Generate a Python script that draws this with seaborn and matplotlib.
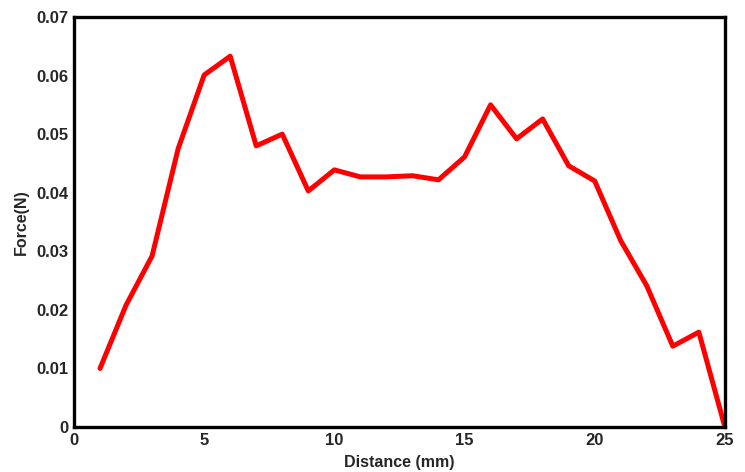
import matplotlib
matplotlib.use("Agg")
import matplotlib.pyplot as plt
import seaborn as sns
import pandas as pd

distance = [1, 2, 3, 4, 5, 6, 7, 8, 9, 10, 11, 12, 13, 14, 15, 16, 17, 18, 19, 20, 21, 22, 23, 24, 25]
force = [0.0100, 0.0208, 0.0292, 0.0475, 0.0601, 0.0633, 0.0480, 0.0500, 0.0403, 0.0439,
         0.0427, 0.0427, 0.0429, 0.0422, 0.0461, 0.0550, 0.0492, 0.0526, 0.0446, 0.0420,
         0.0318, 0.0241, 0.0138, 0.0162, 0.0]
xticks = [0, 5, 10, 15, 20, 25]
yticks = [0, 0.01, 0.02, 0.03, 0.04, 0.05, 0.06, 0.07]
ytick_labels = ["0", "0.01", "0.02", "0.03", "0.04", "0.05", "0.06", "0.07"]

sns.set_style("white")
plt.rcParams['font.family'] = ['Liberation Sans', 'DejaVu Sans']
plt.rcParams['font.weight'] = 'bold'

df = pd.DataFrame({"Distance": distance, "Force": force})

fig = plt.figure(figsize=(7.45, 4.72), dpi=100)
ax = fig.add_axes([0.0993, 0.0953, 0.8737, 0.8687])
sns.lineplot(data=df, x="Distance", y="Force", ax=ax, color="#ff0000", linewidth=3.6)
ax.set_xlim(0, 25)
ax.set_ylim(0, 0.07)
ax.set_xticks(xticks)
ax.set_xticklabels([str(t) for t in xticks], fontsize=12, fontweight='bold')
ax.set_yticks(yticks)
ax.set_yticklabels(ytick_labels, fontsize=12, fontweight='bold')
ax.tick_params(direction='in', length=5, width=2.2, pad=4, color='black')
for s in ax.spines.values():
    s.set_visible(True)
    s.set_linewidth(2.4)
    s.set_color('black')
ax.set_xlabel("Distance (mm)", fontsize=11.5, fontweight='bold', labelpad=5)
ax.set_ylabel("Force(N)", fontsize=11.5, fontweight='bold', labelpad=5)
fig.savefig("out.png", dpi=100)
